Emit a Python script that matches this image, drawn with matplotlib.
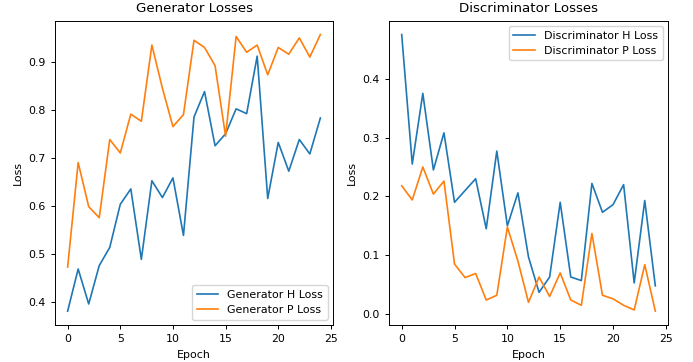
import matplotlib
matplotlib.use("Agg")
import matplotlib.pyplot as plt

epochs = list(range(25))
gen_h = [0.38, 0.468, 0.395, 0.475, 0.513, 0.603, 0.635, 0.488, 0.652, 0.617,
         0.658, 0.538, 0.785, 0.838, 0.725, 0.75, 0.802, 0.792, 0.912, 0.615,
         0.732, 0.672, 0.738, 0.708, 0.783]
gen_p = [0.472, 0.69, 0.598, 0.575, 0.738, 0.71, 0.791, 0.776, 0.935, 0.845,
         0.765, 0.79, 0.945, 0.93, 0.892, 0.745, 0.953, 0.92, 0.935, 0.873,
         0.93, 0.916, 0.95, 0.91, 0.957]
disc_h = [0.475, 0.255, 0.375, 0.245, 0.308, 0.19, 0.21, 0.23, 0.145, 0.277,
          0.15, 0.206, 0.097, 0.037, 0.063, 0.19, 0.063, 0.057, 0.222, 0.173,
          0.186, 0.22, 0.053, 0.193, 0.048]
disc_p = [0.218, 0.194, 0.25, 0.204, 0.226, 0.085, 0.062, 0.069, 0.024, 0.032,
          0.148, 0.09, 0.02, 0.063, 0.03, 0.07, 0.024, 0.015, 0.137, 0.032,
          0.026, 0.015, 0.007, 0.084, 0.005]

fs = 7.9
plt.rcParams['font.size'] = fs
fig = plt.figure(figsize=(6.93, 3.62), dpi=100)
ax1 = fig.add_axes([55/693, 1-325/362, 278/693, 304.3/362])
ax2 = fig.add_axes([389/693, 1-325/362, 279/693, 304.3/362])

ax1.plot(epochs, gen_h, label='Generator H Loss', lw=1.2)
ax1.plot(epochs, gen_p, label='Generator P Loss', lw=1.2)
ax1.set_title('Generator Losses', fontsize=9.6)
ax1.set_xlabel('Epoch', fontsize=fs)
ax1.set_ylabel('Loss', fontsize=fs)
ax1.legend(loc='lower right', fontsize=fs)

ax2.plot(epochs, disc_h, label='Discriminator H Loss', lw=1.2)
ax2.plot(epochs, disc_p, label='Discriminator P Loss', lw=1.2)
ax2.set_title('Discriminator Losses', fontsize=9.6)
ax2.set_xlabel('Epoch', fontsize=fs)
ax2.set_ylabel('Loss', fontsize=fs)
ax2.legend(loc='upper right', fontsize=fs)

for ax in (ax1, ax2):
    ax.set_xticks([0, 5, 10, 15, 20, 25])
    ax.tick_params(labelsize=fs, width=0.7, length=3)
    for s in ax.spines.values():
        s.set_linewidth(0.7)

fig.savefig('out.png', dpi=100)
